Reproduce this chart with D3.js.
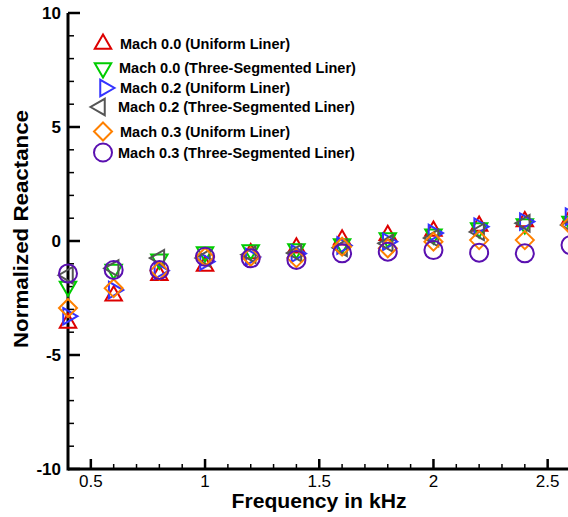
<!DOCTYPE html>
<html><head><meta charset="utf-8">
<script src="https://cdn.jsdelivr.net/npm/d3@7"></script>
<style>body{margin:0;background:#fff;} svg{display:block;} text{font-family:"Liberation Sans",Arial,sans-serif;}</style>
</head><body><svg id="c" width="568" height="517"></svg>
<script>
const freqs = [0.4,0.6,0.8,1.0,1.2,1.4,1.6,1.8,2.0,2.2,2.4,2.6];
const mach00Uniform = [-3.6,-2.4,-1.5,-1.1,-0.55,-0.3,0.05,0.25,0.44,0.66,0.85,1.0];
const mach00Three   = [-2.0,-1.25,-0.8,-0.48,-0.4,-0.35,-0.13,0.13,0.3,0.57,0.75,0.85];
const mach02Uniform = [-3.3,-2.15,-1.3,-0.9,-0.7,-0.55,-0.2,-0.03,0.35,0.63,0.85,1.07];
const mach02Three   = [-1.5,-1.2,-0.75,-0.75,-0.6,-0.53,-0.3,-0.1,0.13,0.4,0.78,0.7];
const mach03Uniform = [-2.94,-2.07,-1.3,-0.7,-0.69,-0.75,-0.25,-0.32,-0.03,0.04,0.04,0.7];
const mach03Three   = [-1.42,-1.27,-1.27,-0.69,-0.76,-0.83,-0.54,-0.47,-0.4,-0.51,-0.54,-0.18];
const seriesNames = ["Mach 0.0 (Uniform Liner)","Mach 0.0 (Three-Segmented Liner)","Mach 0.2 (Uniform Liner)","Mach 0.2 (Three-Segmented Liner)","Mach 0.3 (Uniform Liner)","Mach 0.3 (Three-Segmented Liner)"];
const xTicks = [0.5,1,1.5,2,2.5];
const yTicks = [-10,-5,0,5,10];

const series = [
  {name:seriesNames[0], values:mach00Uniform, color:"#dd0000", shape:"up"},
  {name:seriesNames[1], values:mach00Three,   color:"#00cc00", shape:"down"},
  {name:seriesNames[2], values:mach02Uniform, color:"#3333ff", shape:"right"},
  {name:seriesNames[3], values:mach02Three,   color:"#555555", shape:"left"},
  {name:seriesNames[4], values:mach03Uniform, color:"#ff8000", shape:"diamond"},
  {name:seriesNames[5], values:mach03Three,   color:"#5a10b0", shape:"circle"}
];

const svg = d3.select("#c");
const x = d3.scaleLinear().domain([0.4,2.6]).range([68,570.5]);
const y = d3.scaleLinear().domain([-10,10]).range([469,13]);

function markerPath(shape, r){
  const p = d3.path();
  const tri = (angles)=>{angles.forEach((a,i)=>{const px=r*Math.cos(a), py=r*Math.sin(a); i?p.lineTo(px,py):p.moveTo(px,py);}); p.closePath();};
  const d = Math.PI/180;
  if(shape==="up") tri([-90*d,30*d,150*d]);
  else if(shape==="down") tri([90*d,-30*d,-150*d]);
  else if(shape==="right") tri([0,120*d,240*d]);
  else if(shape==="left") tri([180*d,60*d,-60*d]);
  else if(shape==="diamond"){p.moveTo(0,-r);p.lineTo(r,0);p.lineTo(0,r);p.lineTo(-r,0);p.closePath();}
  else if(shape==="circle"){p.arc(0,0,r,0,2*Math.PI);}
  return p.toString();
}
const sizeOf = s => s==="circle"?9:(s==="diamond"?9:9.5);

// axes
const gx = svg.append("g").attr("transform","translate(0,469)");
gx.append("line").attr("x1",68).attr("x2",570.5).attr("stroke","#000").attr("stroke-width",3);
const xMinor = d3.range(5,27).map(v=>v/10).filter(v=>!xTicks.some(t=>Math.abs(t-v)<1e-9));
gx.selectAll(".xm").data(xMinor).enter().append("line")
  .attr("x1",d=>x(d)).attr("x2",d=>x(d)).attr("y1",0).attr("y2",-5).attr("stroke","#000").attr("stroke-width",1.5);
gx.selectAll(".xM").data(xTicks).enter().append("line")
  .attr("x1",d=>x(d)).attr("x2",d=>x(d)).attr("y1",0).attr("y2",-10).attr("stroke","#000").attr("stroke-width",2.5);
gx.selectAll(".xl").data(xTicks).enter().append("text")
  .attr("x",d=>x(d)).attr("y",17.5).attr("text-anchor","middle").attr("font-size",17).text(d=>d3.format("")(d));

const gy = svg.append("g").attr("transform","translate(68,0)");
gy.append("line").attr("y1",13).attr("y2",470.5).attr("stroke","#000").attr("stroke-width",3);
const yMinor = d3.range(-9,10).filter(v=>v%5!==0);
gy.selectAll(".ym").data(yMinor).enter().append("line")
  .attr("y1",d=>y(d)).attr("y2",d=>y(d)).attr("x1",0).attr("x2",6).attr("stroke","#000").attr("stroke-width",1.5);
gy.selectAll(".yM").data(yTicks).enter().append("line")
  .attr("y1",d=>y(d)).attr("y2",d=>y(d)).attr("x1",0).attr("x2",12).attr("stroke","#000").attr("stroke-width",2.5);
gy.selectAll(".yl").data(yTicks).enter().append("text")
  .attr("x",-7).attr("y",d=>y(d)+6).attr("text-anchor","end").attr("font-size",17).attr("font-weight","bold").text(d=>d);

svg.append("text").attr("x",319).attr("y",508).attr("text-anchor","middle").attr("font-size",20).attr("font-weight","bold")
  .attr("textLength",175).attr("lengthAdjust","spacingAndGlyphs").text("Frequency in kHz");
svg.append("text").attr("transform","translate(28,229) rotate(-90)").attr("text-anchor","middle").attr("font-size",21).attr("font-weight","bold")
  .attr("textLength",238).attr("lengthAdjust","spacingAndGlyphs").text("Normalized Reactance");

// data
series.forEach(s=>{
  svg.append("g").selectAll("path").data(freqs.map((f,i)=>[f,s.values[i]])).enter().append("path")
    .attr("transform",d=>`translate(${x(d[0])},${y(d[1])})`)
    .attr("d",markerPath(s.shape,sizeOf(s.shape)))
    .attr("fill","none").attr("stroke",s.color).attr("stroke-width",2);
});

// legend
const legY = [44,68,88,107,131.5,152.5];
const legTx = [120,119,120,118,120,118];
const legMx = [103,103,105,100,103,103];
series.forEach((s,i)=>{
  svg.append("path").attr("transform",`translate(${legMx[i]},${legY[i]})`).attr("d",markerPath(s.shape,sizeOf(s.shape)))
    .attr("fill","none").attr("stroke",s.color).attr("stroke-width",2);
  svg.append("text").attr("x",legTx[i]).attr("y",legY[i]+5).attr("font-size",14.5).attr("font-weight","bold").text(s.name);
});
</script></body></html>
